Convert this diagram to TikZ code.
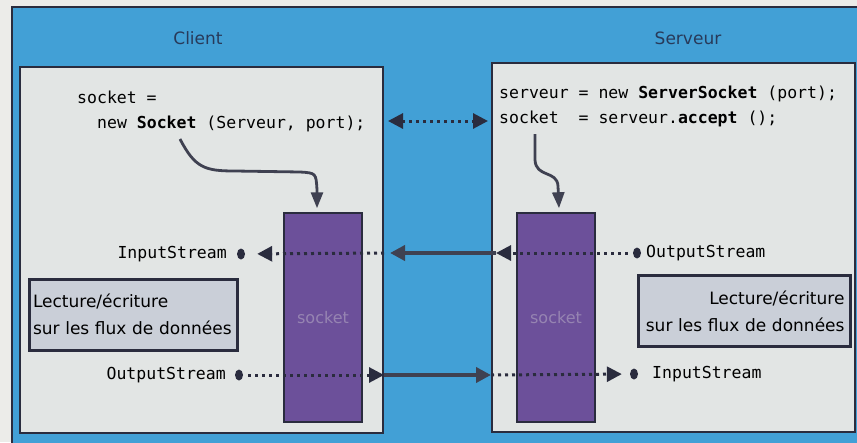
\documentclass[tikz,border=0pt]{standalone}
\usepackage{fontspec}
\setmainfont{DejaVu Sans}
\newfontfamily\codefont{DejaVu Sans Mono}
\usetikzlibrary{arrows.meta,shapes.geometric}
\definecolor{paper}{RGB}{236,236,233}
\definecolor{bluebg}{RGB}{66,160,214}
\definecolor{panel}{RGB}{226,229,228}
\definecolor{sockpurple}{RGB}{108,80,154}
\definecolor{inkdark}{RGB}{42,44,62}
\definecolor{lecfill}{RGB}{202,207,216}
\definecolor{socklabel}{RGB}{150,132,178}
\definecolor{titlecol}{RGB}{40,58,90}
\tikzset{
  panelbox/.style={draw=inkdark, line width=2pt, fill=panel, minimum width=363pt, inner sep=0pt},
  sockbox/.style={draw=inkdark, line width=1.5pt, fill=sockpurple, minimum width=78pt, minimum height=209pt, inner sep=0pt,
     text=socklabel, font=\fontsize{16}{18}\selectfont},
  lecbox/.style={draw=inkdark, line width=3pt, fill=lecfill, minimum height=71pt, text width=200pt,
     font=\fontsize{17}{27}\selectfont, text=black},
  code/.style={inner sep=0pt, anchor=base west, font=\codefont\fontsize{16.5}{20}\selectfont, text=black},
  stream/.style={inner sep=0pt, font=\codefont\fontsize{16.5}{20}\selectfont, text=black},
  sdot/.style={ellipse, fill=inkdark, minimum width=8pt, minimum height=11pt, inner sep=0pt},
  title/.style={font=\fontsize{17}{20}\selectfont, text=titlecol},
  dotline/.style={draw=inkdark, line width=3pt, dash pattern=on 3pt off 4pt},
  thickline/.style={draw=inkdark!90, line width=4.5pt},
  curvearrow/.style={draw=inkdark!90, line width=2.8pt, -{Triangle[length=16pt,width=12pt]}},
  head/.style={-{Triangle[length=15pt,width=15pt]}},
  heads/.style={{Triangle[length=15pt,width=15pt]}-{Triangle[length=15pt,width=15pt]}}
}
\begin{document}
\begin{tikzpicture}[x=1pt,y=-1pt]
\useasboundingbox (0,0) rectangle (857,442);
\fill[paper] (0,0) rectangle (857,442);
\filldraw[fill=bluebg, draw=inkdark, line width=2pt] (12,7) rectangle (875,460);

\node[title] (tclient) at (198,38) {Client};
\node[title] (tserveur) at (688,38) {Serveur};

\node[panelbox, minimum height=366pt] (cbox) at (201.5,250) {};
\node[panelbox, minimum height=369pt] (sbox) at (673.5,247.5) {};

\node[sockbox] (csock) at (323,317.5) {socket};
\node[sockbox] (ssock) at (556,317.5) {socket};

% code
\node[code] (cl1) at (77,103) {socket =};
\node[code] (cl2) at (97,128) {new \textbf{Socket} (Serveur, port);};
\node[code] (sl1) at (499,98) {serveur = new \textbf{ServerSocket} (port);};
\node[code] (sl2) at (499,123) {socket\ \ = serveur.\textbf{accept} ();};

\coordinate (dl) at (388,121);
\coordinate (dr) at (488,121);
\draw[dotline, heads] (dl) -- (dr);

% creation arrows
\coordinate (cstart) at (180,139);
\coordinate (sstart) at (535,134);
\draw[curvearrow] (cstart) .. controls (195,168) and (205,171) .. (235,171) -- (300,172)
   .. controls (316,173) .. (317,190) -- ([xshift=-6pt,yshift=4pt]csock.north);
\draw[curvearrow] (sstart) -- (535,160) .. controls (536,178) and (557,170) .. (558,186)
   -- ([xshift=3pt,yshift=4pt]ssock.north);

% lecture boxes
\node[lecbox, align=left, inner xsep=4pt] (clec) at (133,314.5) {Lecture/écriture\\sur les flux de données};
\node[lecbox, align=right, inner xsep=6pt] (slec) at (744.5,311) {Lecture/écriture\\sur les flux de données};

% streams client
\node[sdot] (cdi) at (241,254) {};
\node[stream, anchor=east] (cin) at (227,254) {InputStream};
\node[sdot] (cdo) at (239,375) {};
\node[stream, anchor=east] (cout) at (226,375) {OutputStream};
% streams server
\node[sdot] (sdo) at (637,253) {};
\node[stream, anchor=west] (sout) at (646,253) {OutputStream};
\node[sdot] (sdi) at (634,374) {};
\node[stream, anchor=west] (sin) at (652,374) {InputStream};

% top row: server -> client
\draw[dotline, head, shorten <=5pt] (sdo) -- ([xshift=5pt]sbox.west |- sdo);
\draw[thickline, head] ([xshift=5pt]sbox.west |- sdo) -- ([xshift=6pt]cbox.east |- sdo);
\draw[dotline, head, shorten >=12pt] (cbox.east |- sdo) -- (cdi);

% bottom row: client -> server
\draw[dotline, head, shorten <=5pt] (cdo) -- (cbox.east |- cdo);
\draw[thickline, head] (cbox.east |- cdo) -- (sbox.west |- cdo);
\draw[dotline, head, shorten >=8pt] (sbox.west |- cdo) -- (sdi);
\end{tikzpicture}
\end{document}
